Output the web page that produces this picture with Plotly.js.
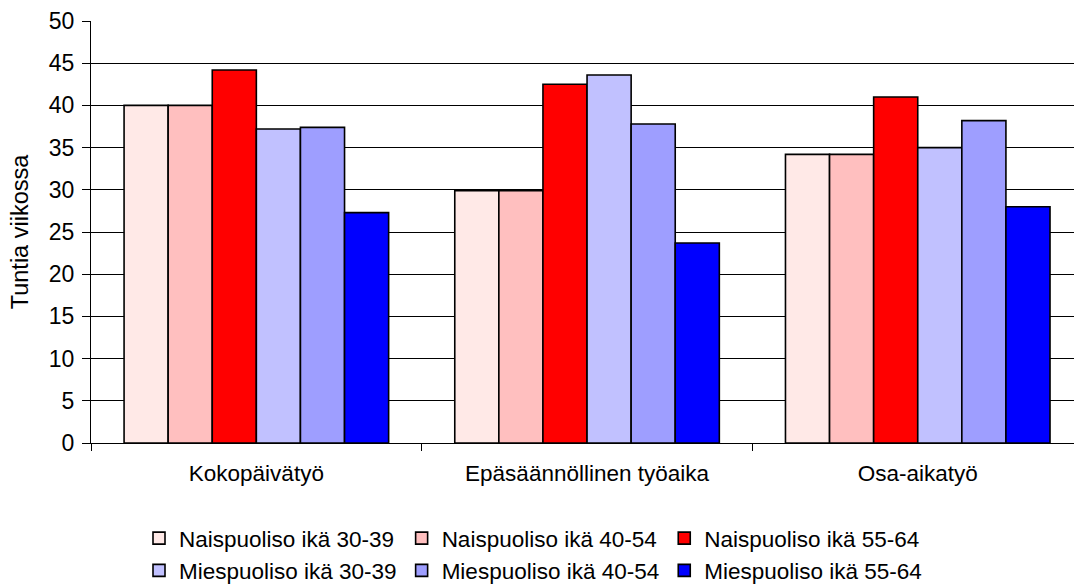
<!DOCTYPE html>
<html>
<head>
<meta charset="utf-8">
<script src="https://cdn.plot.ly/plotly-3.0.1.min.js"></script>
<style>
  html, body { margin: 0; padding: 0; background: #fff; }
  #chart { width: 1074px; height: 585px; }
</style>
</head>
<body>
<div id="chart"></div>
<script>
var categories = ["Kokopäivätyö", "Epäsäännöllinen työaika", "Osa-aikatyö"];
var seriesNames = [
  "Naispuoliso ikä 30-39", "Naispuoliso ikä 40-54", "Naispuoliso ikä 55-64",
  "Miespuoliso ikä 30-39", "Miespuoliso ikä 40-54", "Miespuoliso ikä 55-64"
];
var naisp3039 = [40.0, 29.9, 34.2];
var naisp4054 = [40.0, 29.9, 34.2];
var naisp5564 = [44.2, 42.5, 41.0];
var miesp3039 = [37.2, 43.6, 35.0];
var miesp4054 = [37.4, 37.8, 38.2];
var miesp5564 = [27.3, 23.7, 28.0];
var yTickVals = [0, 5, 10, 15, 20, 25, 30, 35, 40, 45, 50];

var seriesValues = [naisp3039, naisp4054, naisp5564, miesp3039, miesp4054, miesp5564];
var colors = ["#FFE9E7", "#FFBFBF", "#FF0000", "#C1C1FF", "#9E9EFF", "#0000FF"];

var FONT = "Liberation Sans, Arial, sans-serif";
var FS = 22.5;

var traces = seriesValues.map(function (vals, i) {
  return {
    type: "bar",
    name: seriesNames[i],
    x: categories,
    y: vals,
    marker: { color: colors[i], line: { color: "#000000", width: 1.6 } },
    hoverinfo: "x+y+name"
  };
});

var layout = {
  width: 1074,
  height: 585,
  paper_bgcolor: "#ffffff",
  plot_bgcolor: "#ffffff",
  font: { family: FONT, size: FS, color: "#000000" },
  margin: { l: 91, r: 0, t: 20.7, b: 141.7, pad: 0 },
  barmode: "group",
  bargap: 0.2,
  bargroupgap: 0,
  showlegend: true,
  legend: {
    orientation: "h",
    xref: "container",
    yref: "container",
    x: 139 / 1074,
    xanchor: "left",
    y: 0.1162,
    yanchor: "top",
    font: { family: FONT, size: FS, color: "#000000" },
    bgcolor: "rgba(0,0,0,0)",
    traceorder: "normal",
    itemclick: false
  },
  xaxis: {
    type: "category",
    range: [-0.5, 2.4725],
    showgrid: false,
    zeroline: false,
    showline: true,
    linecolor: "#000000",
    linewidth: 1,
    ticks: "outside",
    tickson: "boundaries",
    ticklen: 7,
    tickcolor: "#000000",
    tickwidth: 1,
    ticklabelstandoff: 10,
    tickfont: { family: FONT, size: FS, color: "#000000" },
    fixedrange: true
  },
  yaxis: {
    range: [0, 50],
    tickmode: "array",
    tickvals: yTickVals,
    ticktext: yTickVals.map(String),
    showgrid: true,
    gridcolor: "#000000",
    gridwidth: 1,
    zeroline: false,
    showline: true,
    linecolor: "#000000",
    linewidth: 1,
    ticks: "outside",
    ticklen: 8,
    tickcolor: "#000000",
    tickwidth: 1,
    ticklabelstandoff: 3,
    tickfont: { family: FONT, size: 23, color: "#000000" },
    title: { text: "Tuntia viikossa", standoff: 13, font: { family: FONT, size: 23.5, color: "#000000" } },
    automargin: false,
    fixedrange: true
  }
};

Plotly.newPlot("chart", traces, layout, { displayModeBar: false, staticPlot: false });
</script>
</body>
</html>
